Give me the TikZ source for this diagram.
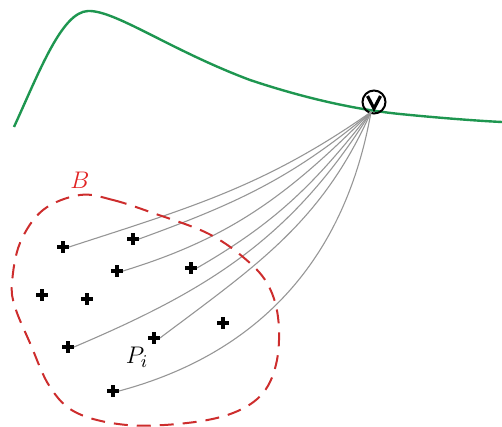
\documentclass[tikz,border=0pt]{standalone}
\usetikzlibrary{calc}
\definecolor{curvegreen}{RGB}{30,150,80}
\definecolor{bred}{RGB}{205,45,45}
\definecolor{lblred}{RGB}{225,35,35}
\definecolor{fangray}{RGB}{150,150,150}
\tikzset{
  crossmark/.style={minimum size=6pt, inner sep=0pt, outer sep=0pt,
    path picture={\draw[line width=1.6pt,black]
      (path picture bounding box.north) -- (path picture bounding box.south)
      (path picture bounding box.west) -- (path picture bounding box.east);}},
  fan/.style={draw=fangray, line width=0.55pt},
  region/.style={draw=bred, line width=1pt, dash pattern=on 7pt off 4.5pt},
  lbl/.style={inner sep=0pt, font=\fontsize{13}{15}\selectfont}
}
\begin{document}
\begin{tikzpicture}[x=0.5pt,y=-0.5pt]
\useasboundingbox (0,0) rectangle (502,427);
% green curve
\draw[curvegreen, line width=1.2pt] (14,127) .. controls (40,70) and (62,12) .. (88,11)
  .. controls (115,10) and (170,50) .. (250,80)
  .. controls (310,100) and (360,110) .. (400,114)
  .. controls (440,118) and (480,121) .. (502,122);
% V symbol
\node[circle, draw=black, line width=1pt, minimum size=11.5pt, inner sep=0pt] (vsym) at (374,102) {};
\draw[line width=1.6pt, line join=miter] ($(vsym.center)+(-6.5,-6)$) -- ($(vsym.center)+(0,6.5)$) -- ($(vsym.center)+(6.5,-6)$);
\coordinate (apex) at (371,112);
% points
\node[crossmark] (p1) at (63,247) {};
\node[crossmark] (p2) at (133,239) {};
\node[crossmark] (p3) at (117,271) {};
\node[crossmark] (p4) at (191,268) {};
\node[crossmark] (p5) at (68,347) {};
\node[crossmark] (p6) at (154,338) {};
\node[crossmark] (p7) at (113,391) {};
\node[crossmark] (q1) at (42,295) {};
\node[crossmark] (q2) at (87,299) {};
\node[crossmark] (q3) at (223,323) {};
% fan of curves
\draw[fan] (apex) to[out=-145, in=18] (p1.east);
\draw[fan] (apex) to[out=-140, in=20] (p2.east);
\draw[fan] (apex) to[out=-135, in=17] (p3.east);
\draw[fan] (apex) to[out=-128, in=30] (p4.east);
\draw[fan] (apex) to[out=-122, in=23] (p5.east);
\draw[fan] (apex) to[out=-114, in=37] (p6.east);
\draw[fan] (apex) to[out=-100, in=15] (p7.east);
% region B
\draw[region] plot[smooth cycle, tension=0.6] coordinates
  {(80,195) (113,200) (153,213) (207,233) (243,257) (267,283) (278,317) (277,360) (263,393) (233,413) (187,423) (127,425) (77,413) (50,387) (30,343) (15,307) (12,283) (20,243) (43,210)};
\node[lbl, text=lblred] (blabel) at (80,180) {$B$};
\node[lbl] (pilabel) at (137,357) {$P_i$};
\end{tikzpicture}
\end{document}
